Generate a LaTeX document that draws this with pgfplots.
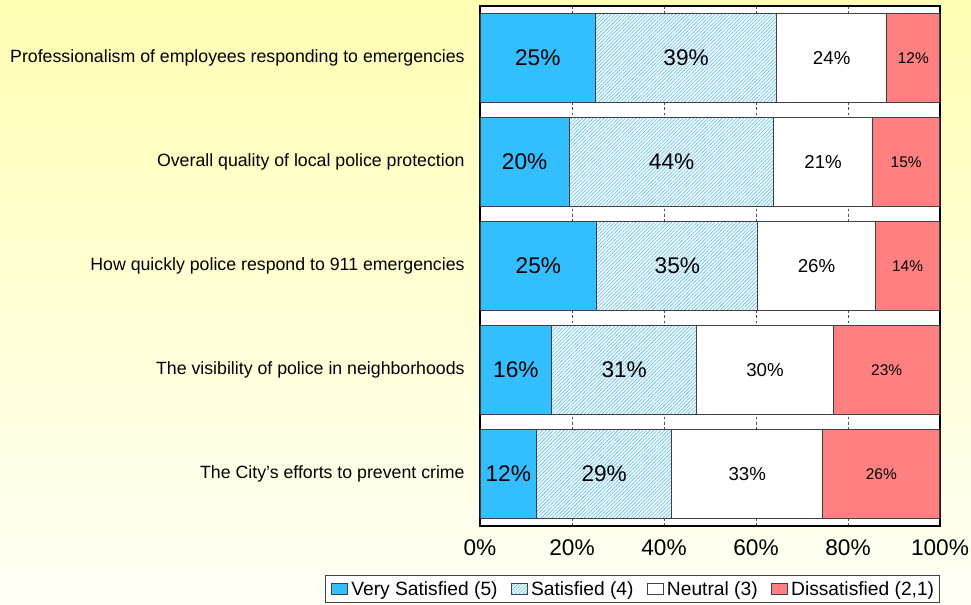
\documentclass[border=0pt]{standalone}
\usepackage{pgfplots}
\pgfplotsset{compat=1.18}
\usepackage{pgfplotstable}
\usetikzlibrary{patterns.meta}
\usepackage{fontspec}
\setmainfont{Liberation Sans}
\definecolor{vsat}{RGB}{51,190,255}
\definecolor{sath}{RGB}{100,195,245}
\definecolor{dsat}{RGB}{255,128,128}
\definecolor{edge}{RGB}{64,64,64}
\definecolor{bgtop}{RGB}{255,255,180}
\definecolor{bgbot}{RGB}{255,255,246}

\pgfplotstableread{
y vs s n d lvs ls ln ld
1 25.1 39.4 23.9 11.6 25 39 24 12
2 19.4 44.5 21.4 14.7 20 44 21 15
3 25.4 35.0 25.5 14.1 25 35 26 14
4 15.6 31.5 29.7 23.2 16 31 30 23
5 12.3 29.4 32.8 25.5 12 29 33 26
}\data

\pgfplotsset{
  legimg/.style={legend image code/.code={\draw[##1, line width=0.6pt] (0pt,-4pt) rectangle (12pt,4.3pt);}},
  base/.style={
    at={(360pt,-394.5pt)}, anchor=south west,
    scale only axis, width=345pt, height=390pt,
    xmin=0, xmax=100, ymin=0.5, ymax=5.5, y dir=reverse,
  },
  lbl/.style={only marks, mark=text, text mark={},
    nodes near coords={\pgfplotspointmeta\%}, point meta=explicit symbolic,
    every node near coord/.append style={anchor=center, text=black, font=\fontsize{#1}{#1}\selectfont}},
}

\begin{document}
\begin{tikzpicture}
\shade[top color=bgtop, bottom color=bgbot] (0pt,0pt) rectangle (728.25pt,-453pt);
\begin{axis}[base,
  axis background/.style={fill=white},
  xbar stacked, bar width=0.85,
  axis line style={line width=1.6pt, black},
  xtick={0,20,40,60,80,100},
  xticklabels={0\%,20\%,40\%,60\%,80\%,100\%},
  xticklabel style={font=\fontsize{17}{19}\selectfont, yshift=-7pt},
  ytick={1,2,3,4,5},
  yticklabels={Professionalism of employees responding to emergencies,
    Overall quality of local police protection,
    How quickly police respond to 911 emergencies,
    The visibility of police in neighborhoods,
    The City's efforts to prevent crime},
  yticklabel style={font=\fontsize{13.3}{15}\selectfont, xshift=-8pt},
  major tick length=0pt,
  xmajorgrids, major grid style={dash pattern=on 2pt off 2pt, line width=0.7pt, gray!60!black},
  legend style={at={(1,-0.1481)}, anchor=south east, legend columns=-1,
    draw=edge, line width=0.8pt, fill=white, font=\fontsize{14.4}{16}\selectfont,
    inner xsep=4pt, inner ysep=1.5pt,
    nodes={inner xsep=0pt, inner ysep=2.5pt},
    /tikz/every even column/.append style={column sep=10pt},
    /tikz/every odd column/.append style={column sep=2.5pt}},
]
\addplot[legimg, fill=vsat, draw=edge, line width=0.8pt] table[x=vs, y=y] {\data};
\addlegendentry{Very Satisfied (5)}
\addplot[legimg, fill=white, draw=edge, line width=0.8pt,
  postaction={pattern={Lines[angle=45, distance=1.9pt, line width=0.55pt]}, pattern color=sath}] table[x=s, y=y] {\data};
\addlegendentry{Satisfied (4)}
\addplot[legimg, fill=white, draw=edge, line width=0.8pt] table[x=n, y=y] {\data};
\addlegendentry{Neutral (3)}
\addplot[legimg, fill=dsat, draw=edge, line width=0.8pt] table[x=d, y=y] {\data};
\addlegendentry{Dissatisfied (2,1)}
\end{axis}
\begin{axis}[base, hide axis]
\addplot[lbl=17] table[x expr=\thisrow{vs}/2, y=y, meta=lvs] {\data};
\addplot[lbl=17] table[x expr=\thisrow{vs}+\thisrow{s}/2, y=y, meta=ls] {\data};
\addplot[lbl=14] table[x expr=\thisrow{vs}+\thisrow{s}+\thisrow{n}/2, y=y, meta=ln] {\data};
\addplot[lbl=11.6] table[x expr=\thisrow{vs}+\thisrow{s}+\thisrow{n}+\thisrow{d}/2, y=y, meta=ld] {\data};
\end{axis}
\pgfresetboundingbox
\path (0pt,0pt) rectangle (728.25pt,-453pt);
\end{tikzpicture}
\end{document}
